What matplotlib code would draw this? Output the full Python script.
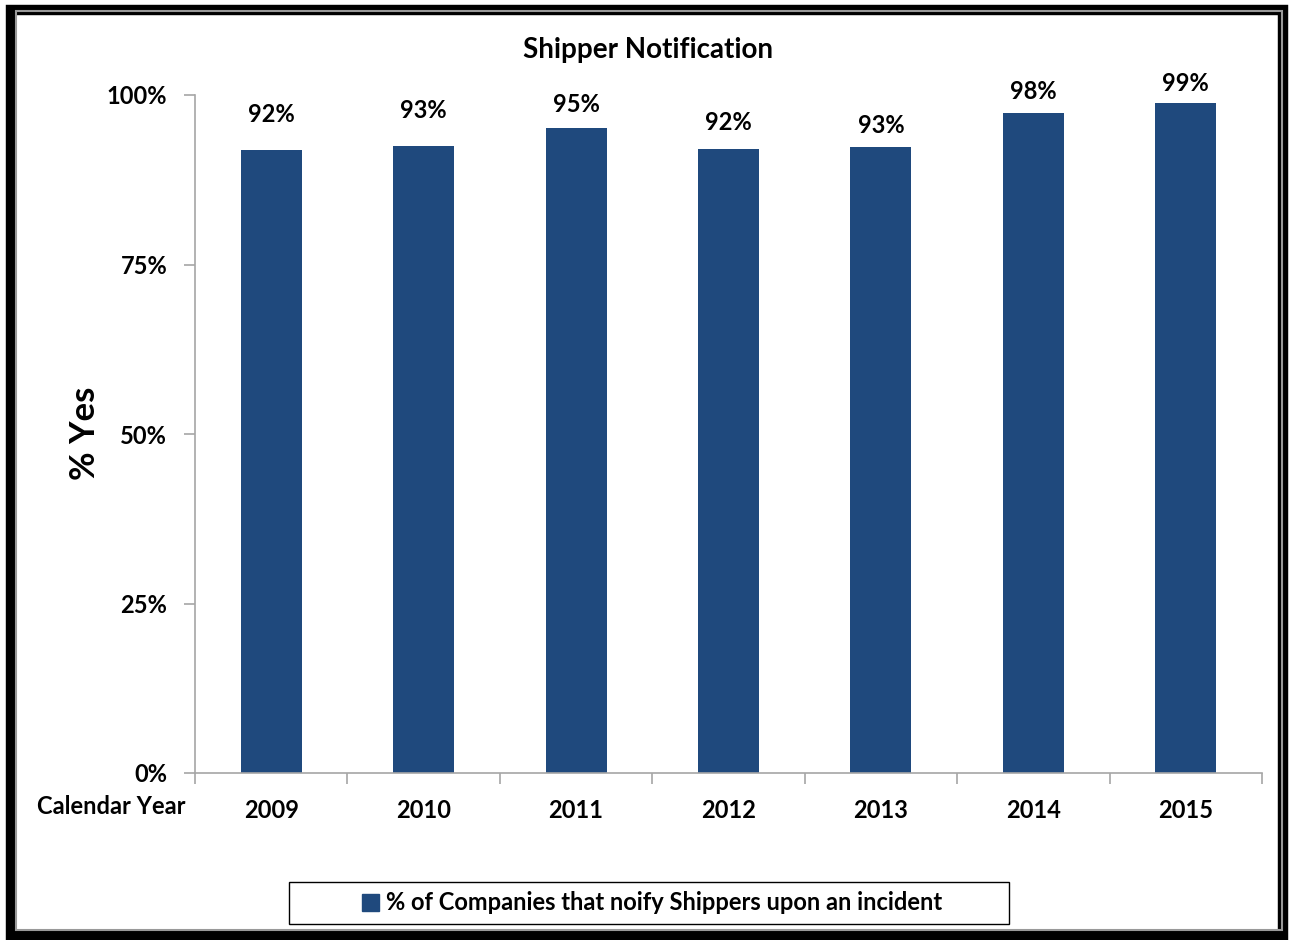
import matplotlib.pyplot as plt
from matplotlib.patches import Rectangle
from matplotlib.ticker import PercentFormatter

plt.rcParams['font.family'] = ['Lato', 'DejaVu Sans']

# data
years = ['2009', '2010', '2011', '2012', '2013', '2014', '2015']
pct_yes = [92, 93, 95, 92, 93, 98, 99]
bar_tops = [91.9, 92.5, 95.1, 92.0, 92.3, 97.3, 98.8]
# label offsets above bar top (pixels), as placed in the original
label_offset_px = [35, 35, 24, 27, 22, 22, 20]

bar_color = '#1F497D'
axis_color = '#A6A6A6'
W, H = 1289, 940

fig = plt.figure(figsize=(12.89, 9.40), dpi=100)
ax = fig.add_axes([195/W, 1 - 773/H, (1262-195)/W, (773-95)/H])

x = list(range(len(years)))
ax.bar(x, bar_tops, width=0.40, color=bar_color, zorder=2)

for xi, top, lab, off in zip(x, bar_tops, pct_yes, label_offset_px):
    ax.annotate(f'{lab}%', (xi, top), xytext=(0, off), textcoords='offset pixels',
                ha='center', va='center', fontsize=17, fontweight='bold')

ax.set_xlim(-0.5, len(years) - 0.5)
ax.set_ylim(0, 100)
ax.set_yticks([0, 25, 50, 75, 100])
ax.yaxis.set_major_formatter(PercentFormatter(decimals=0))
ax.set_xticks(x)
ax.set_xticklabels(years)
ax.set_xticks([i - 0.5 for i in range(len(years) + 1)], minor=True)

for side in ['top', 'right']:
    ax.spines[side].set_visible(False)
for side in ['left', 'bottom']:
    ax.spines[side].set_color(axis_color)
    ax.spines[side].set_linewidth(1.2)

ax.tick_params(axis='x', which='major', length=0, pad=19, labelsize=17)
ax.tick_params(axis='x', which='minor', length=8, color=axis_color, width=1.2)
ax.tick_params(axis='y', length=8, color=axis_color, width=1.2, pad=12, labelsize=17)
for t in ax.get_xticklabels() + ax.get_yticklabels():
    t.set_fontweight('bold')

fig.text(85/W, 1 - 433/H, '% Yes', rotation=90, ha='center', va='center',
         fontsize=25, fontweight='bold')
fig.text(648/W, 1 - 50/H, 'Shipper Notification', ha='center', va='center',
         fontsize=20, fontweight='bold')
fig.text(111/W, 1 - 807/H, 'Calendar Year', ha='center', va='center',
         fontsize=17, fontweight='bold')

leg = ax.legend([Rectangle((0, 0), 1, 1, color=bar_color)],
                ['% of Companies that noify Shippers upon an incident'],
                loc='center', bbox_to_anchor=(652/W, 1 - 903/H),
                bbox_transform=fig.transFigure, frameon=False,
                prop={'size': 17, 'weight': 'bold'}, handlelength=0.75,
                handleheight=0.75, handletextpad=0.3, borderaxespad=0)
# legend box
fig.patches.append(Rectangle((289/W, 1 - 924/H), 720/W, 42/H,
                             transform=fig.transFigure, fill=False,
                             edgecolor='black', linewidth=1))

# outer frame with gray inner line
fig.patches.append(Rectangle((11/W, 5/H), 1272/W, 925/H,
                             transform=fig.transFigure, fill=False,
                             edgecolor='black', linewidth=7.5))
fig.patches.append(Rectangle((16/W, 10/H), 1266/W, 919/H,
                             transform=fig.transFigure, fill=False,
                             edgecolor='#999999', linewidth=1.5))

fig.savefig('out.png', dpi=100)
